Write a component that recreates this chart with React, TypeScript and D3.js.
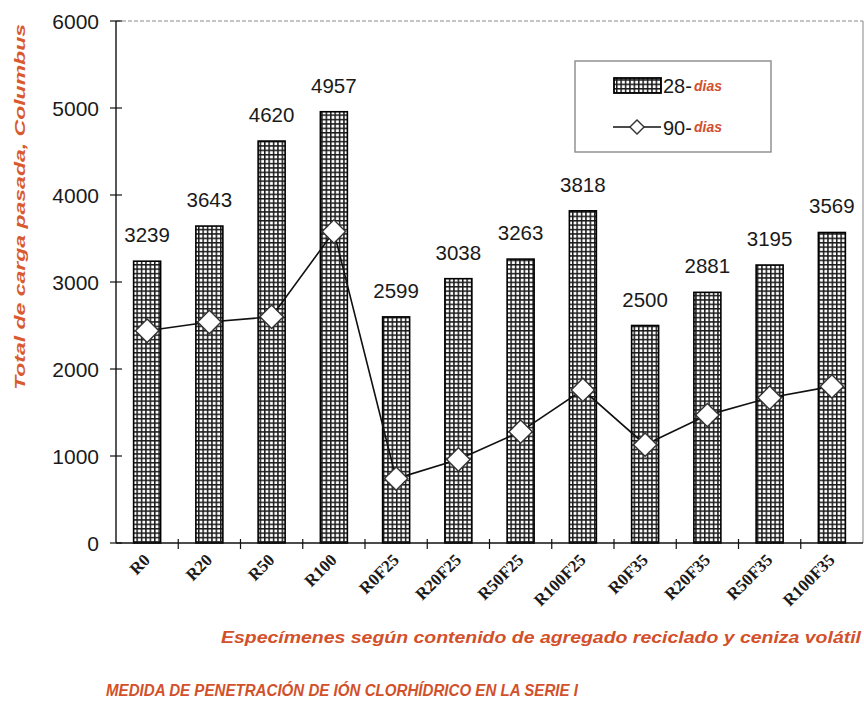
import React from 'react';
import * as d3 from 'd3';

// Specimen groups (recycled aggregate % / fly ash %)
const categories = ['R0', 'R20', 'R50', 'R100', 'R0F25', 'R20F25', 'R50F25', 'R100F25', 'R0F35', 'R20F35', 'R50F35', 'R100F35'];
// Total charge passed at 28 days (bars, labelled)
const dias28 = [3239, 3643, 4620, 4957, 2599, 3038, 3263, 3818, 2500, 2881, 3195, 3569];
// Total charge passed at 90 days (line with diamonds)
const dias90 = [2440, 2540, 2600, 3580, 740, 960, 1280, 1760, 1130, 1470, 1670, 1800];
const yTicks = [0, 1000, 2000, 3000, 4000, 5000, 6000];

const RED = '#d2502a';
const SANS = "'Liberation Sans', Arial, sans-serif";
const SERIF = "'Liberation Serif', 'Times New Roman', serif";

export default function App() {
  const W = 864;
  const H = 702;
  const left = 116;
  const right = 863;
  const top = 21;
  const bottom = 543;

  const x = d3.scaleBand<string>().domain(categories).range([left, right]).padding(0);
  const y = d3.scaleLinear().domain([0, 6000]).range([bottom, top]);
  const barW = 27;
  const cx = (c: string) => (x(c) as number) + x.bandwidth() / 2;

  const linePath = d3
    .line<number>()
    .x((_, i) => cx(categories[i]))
    .y((d) => y(d))(dias90) as string;

  const diamond = d3.symbol(d3.symbolSquare, 16.5 * 16.5)() as string;
  const legendDiamond = d3.symbol(d3.symbolSquare, 10 * 10)() as string;

  const boundaries = d3.range(1, categories.length).map((i) => left + i * x.step());

  return (
    <svg width={W} height={H} style={{ position: 'absolute', left: 0, top: 0, background: '#fff' }}>
      <defs>
        <pattern id="grid" width={4.4} height={4.4} patternUnits="userSpaceOnUse">
          <rect width={4.4} height={4.4} fill="#fff" />
          <rect x={0} y={0} width={4.4} height={1.5} fill="#1a1a1a" />
          <rect x={0} y={0} width={1.5} height={4.4} fill="#1a1a1a" />
        </pattern>
      </defs>

      {/* plot frame */}
      <line x1={left} x2={right} y1={top} y2={top} stroke="#8a8a8a" strokeWidth={1.2} strokeDasharray="4,2" />
      <line x1={right} x2={right} y1={top} y2={bottom} stroke="#9a9a9a" strokeWidth={1.2} />

      {/* bars */}
      {categories.map((c, i) => (
        <rect
          key={c}
          x={cx(c) - barW / 2}
          y={y(dias28[i])}
          width={barW}
          height={bottom - y(dias28[i])}
          fill="url(#grid)"
          stroke="#000"
          strokeWidth={1.6}
        />
      ))}

      {/* bar value labels */}
      {categories.map((c, i) => (
        <text
          key={c}
          x={cx(c)}
          y={y(dias28[i]) - 19}
          textAnchor="middle"
          fontFamily={SANS}
          fontSize={20.5}
          fill="#1a1a1a"
        >
          {dias28[i]}
        </text>
      ))}

      {/* 90-day series */}
      <path d={linePath} fill="none" stroke="#111" strokeWidth={1.6} />
      {categories.map((c, i) => (
        <path
          key={c}
          d={diamond}
          transform={`translate(${cx(c)},${y(dias90[i])}) rotate(45)`}
          fill="#fff"
          stroke="#333"
          strokeWidth={1.4}
        />
      ))}

      {/* axes */}
      <line x1={left} x2={left} y1={top} y2={bottom} stroke="#111" strokeWidth={1.4} />
      <line x1={left} x2={right} y1={bottom} y2={bottom} stroke="#111" strokeWidth={1.4} />
      {yTicks.map((t) => (
        <g key={t}>
          <line x1={left - 6} x2={left + 6} y1={y(t)} y2={y(t)} stroke="#111" strokeWidth={1.2} />
          <text
            x={99}
            y={y(t)}
            dy="0.36em"
            textAnchor="end"
            fontFamily={SANS}
            fontSize={21}
            fill="#1a1a1a"
          >
            {t}
          </text>
        </g>
      ))}
      {boundaries.map((b) => (
        <line key={b} x1={b} x2={b} y1={bottom - 4} y2={bottom + 6} stroke="#111" strokeWidth={1.2} />
      ))}

      {/* category labels */}
      {categories.map((c) => (
        <text
          key={c}
          transform={`translate(${cx(c) + 4},${bottom + 18}) rotate(-45)`}
          textAnchor="end"
          fontFamily={SERIF}
          fontWeight="bold"
          fontSize={17}
          fill="#1a1a1a"
        >
          {c}
        </text>
      ))}

      {/* legend */}
      <rect x={575} y={61} width={196} height={91} fill="#fff" stroke="#8a8a8a" strokeWidth={1.4} />
      <rect x={614} y={78} width={47} height={15} fill="url(#grid)" stroke="#000" strokeWidth={1.8} />
      <text x={663} y={93} fontFamily={SANS} fontSize={20} fill="#1a1a1a">28-</text>
      <text x={694} y={91} fontFamily={SANS} fontSize={14} fontWeight="bold" fontStyle="italic" fill={RED}>dias</text>
      <line x1={613} x2={661} y1={127} y2={127} stroke="#111" strokeWidth={1.6} />
      <path d={legendDiamond} transform="translate(637,127) rotate(45)" fill="#fff" stroke="#333" strokeWidth={1.4} />
      <text x={663} y={135} fontFamily={SANS} fontSize={20} fill="#1a1a1a">90-</text>
      <text x={694} y={132} fontFamily={SANS} fontSize={14} fontWeight="bold" fontStyle="italic" fill={RED}>dias</text>

      {/* axis titles */}
      <text
        transform="translate(25,390) rotate(-90)"
        fontFamily={SANS}
        fontSize={15}
        fontWeight="bold"
        fontStyle="italic"
        fill="#d85a2e"
        textLength={366}
        lengthAdjust="spacingAndGlyphs"
      >
        Total de carga pasada, Columbus
      </text>
      <text
        x={221}
        y={643}
        fontFamily={SANS}
        fontSize={16}
        fontWeight="bold"
        fontStyle="italic"
        fill={RED}
        textLength={640}
        lengthAdjust="spacingAndGlyphs"
      >
        Especímenes según contenido de agregado reciclado y ceniza volátil
      </text>
      <text
        x={106}
        y={696}
        fontFamily={SANS}
        fontSize={16}
        fontWeight="bold"
        fontStyle="italic"
        fill={RED}
        textLength={472}
        lengthAdjust="spacingAndGlyphs"
      >
        MEDIDA DE PENETRACIÓN DE IÓN CLORHÍDRICO EN LA SERIE I
      </text>
    </svg>
  );
}
